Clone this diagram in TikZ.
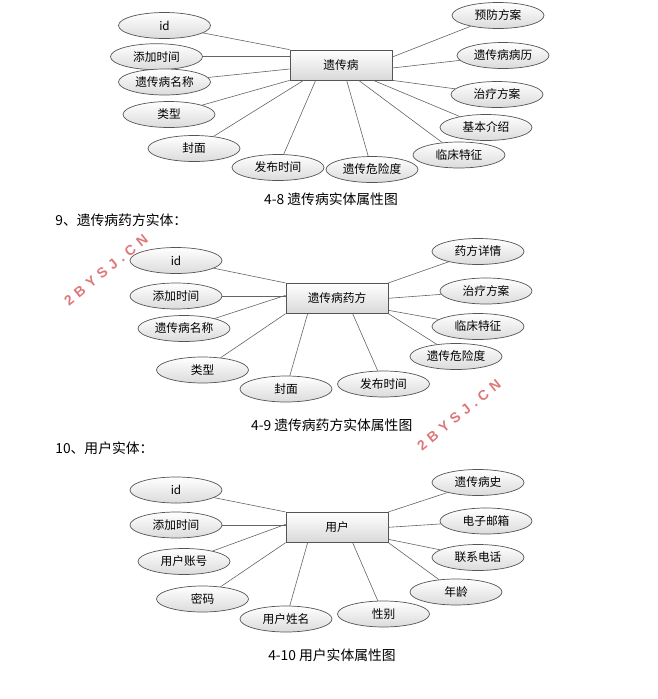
\documentclass[tikz,border=0pt]{standalone}
\usepackage{fontspec}
\setmainfont{Noto Sans CJK SC}
\newfontfamily\wmfont[LetterSpace=35]{Liberation Sans}
\usepackage{tikz}
\usetikzlibrary{shapes.geometric}
\definecolor{edgegray}{RGB}{85,85,85}
\definecolor{linegray}{RGB}{100,100,100}
\definecolor{wmred}{RGB}{222,120,120}
\tikzset{%
	entity/.style  = {draw=edgegray, rectangle, minimum width = 102pt, minimum height = 30pt, top color=white, bottom color=black!15, font=\fontsize{11.7}{14}\selectfont}, % Entity
	attr/.style    = {draw=edgegray, ellipse, minimum width = 92pt, minimum height = 26pt, inner sep=0pt, top color=white, bottom color=black!14, font=\fontsize{11.7}{14}\selectfont}, % Attribute
	link/.style    = {draw=linegray, line width=0.6pt}, % Connector
	title/.style   = {font=\fontsize{13.8}{16}\selectfont}, % Caption
	heading/.style = {anchor=west, inner sep=0pt, font=\fontsize{13.8}{16}\selectfont}, % Section heading
	stamp/.style   = {text=wmred, rotate=39, inner sep=0pt, font=\wmfont\bfseries\fontsize{14}{16}\selectfont}, % Watermark
}
\begin{document}
\begin{tikzpicture}[x=1pt, y=-1pt, line width=0.7pt]
		\useasboundingbox (0,0) rectangle (657,699);
		% 4-8
		\node[entity] (d) at (341,65) {遗传病};
		\node[attr] (did) at (164.5,25.5) {id};
		\node[attr] (dadd) at (156.5,56.7) {添加时间};
		\node[attr] (dname) at (164.5,82) {遗传病名称};
		\node[attr] (dtype) at (169,114.5) {类型};
		\node[attr] (dcover) at (194,148.5) {封面};
		\node[attr] (dpub) at (278,167.5) {发布时间};
		\node[attr] (drisk) at (372,169.5) {遗传危险度};
		\node[attr] (dclin) at (459,155) {临床特征};
		\node[attr] (dintro) at (486,127.5) {基本介绍};
		\node[attr] (dcure) at (497,94.5) {治疗方案};
		\node[attr] (dcase) at (503,55.5) {遗传病病历};
		\node[attr] (dprev) at (498,15.5) {预防方案};
		\node[title] (dcap) at (331,199) {4-8 遗传病实体属性图};
		\draw[link] (did) -- (d.north west);
		\draw[link] (dadd) -- (dadd -| d.west);
		\draw[link] (dname) -- ([yshift=-4pt]d.west);
		\draw[link] (dtype) -- (d.south west);
		\draw[link] (dcover) -- ([xshift=14pt]d.south west);
		\draw[link] (dpub) -- ([xshift=26pt]d.south west);
		\draw[link] (drisk) -- ([xshift=57pt]d.south west);
		\draw[link] (dclin) -- ([xshift=69pt]d.south west);
		\draw[link] (dintro) -- ([xshift=-19pt]d.south east);
		\draw[link] (dcure) -- (d.south east);
		\draw[link] (dcase) -- ([yshift=-3pt]d.east);
		\draw[link] (dprev) -- ([yshift=8pt]d.east);
		% 4-9
		\node[heading] (mh) at (55,220) {9、遗传病药方实体：};
		\node[entity] (m) at (337,298.3) {遗传病药方};
		\node[attr] (mid) at (176,260.5) {id};
		\node[attr] (madd) at (176,296) {添加时间};
		\node[attr] (mname) at (184,328.5) {遗传病名称};
		\node[attr] (mtype) at (202.5,370) {类型};
		\node[attr] (mcover) at (286,389) {封面};
		\node[attr] (mpub) at (383.5,384) {发布时间};
		\node[attr] (mrisk) at (456,356.5) {遗传危险度};
		\node[attr] (mclin) at (478,326.5) {临床特征};
		\node[attr] (mcure) at (486,291) {治疗方案};
		\node[attr] (mdetail) at (478,251.5) {药方详情};
		\node[title] (mcap) at (331.7,425) {4-9 遗传病药方实体属性图};
		\draw[link] (mid) -- (m.north west);
		\draw[link] (madd) -- (madd -| m.west);
		\draw[link] (mname) -- ([yshift=3pt]m.west);
		\draw[link] (mtype) -- (m.south west);
		\draw[link] (mcover) -- ([xshift=22pt]m.south west);
		\draw[link] (mpub) -- ([xshift=67pt]m.south west);
		\draw[link] (mrisk) -- (m.south east);
		\draw[link] (mclin) -- ([yshift=-12pt]m.east);
		\draw[link] (mcure) -- (m.east);
		\draw[link] (mdetail) -- (m.north east);
		% 4-10
		\node[heading] (uh) at (55,448) {10、用户实体：};
		\node[entity] (u) at (337,527.3) {用户};
		\node[attr] (uid) at (176,490) {id};
		\node[attr] (uadd) at (176,525) {添加时间};
		\node[attr] (uacct) at (184,561.5) {用户账号};
		\node[attr] (upwd) at (202.5,599) {密码};
		\node[attr] (uname) at (286,619) {用户姓名};
		\node[attr] (usex) at (383.5,614) {性别};
		\node[attr] (uage) at (456,592) {年龄};
		\node[attr] (utel) at (478,557.5) {联系电话};
		\node[attr] (umail) at (486,521) {电子邮箱};
		\node[attr] (uhist) at (478,482.5) {遗传病史};
		\node[title] (ucap) at (332,655) {4-10 用户实体属性图};
		\draw[link] (uid) -- (u.north west);
		\draw[link] (uadd) -- (uadd -| u.west);
		\draw[link] (uacct) -- ([yshift=3pt]u.west);
		\draw[link] (upwd) -- (u.south west);
		\draw[link] (uname) -- ([xshift=22pt]u.south west);
		\draw[link] (usex) -- ([xshift=67pt]u.south west);
		\draw[link] (uage) -- (u.south east);
		\draw[link] (utel) -- ([yshift=-12pt]u.east);
		\draw[link] (umail) -- (u.east);
		\draw[link] (uhist) -- (u.north east);
		% watermarks
		\node[stamp] (wm1) at (106,270) {2BYSJ.CN};
		\node[stamp] (wm2) at (459,415) {2BYSJ.CN};
\end{tikzpicture}
\end{document}
